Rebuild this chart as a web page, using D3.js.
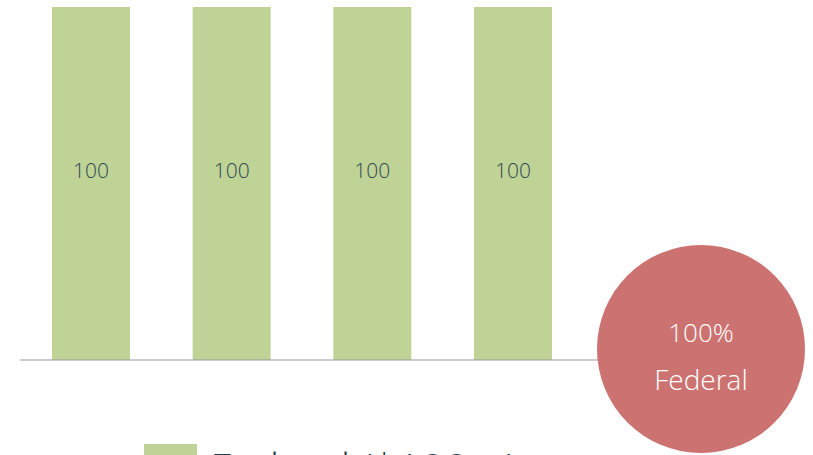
<!DOCTYPE html>
<html>
<head>
<meta charset="utf-8">
<script src="https://d3js.org/d3.v7.min.js"></script>
<style>
  body { margin: 0; background: #fff; overflow: hidden; }
  svg text { font-family: "Open Sans", "Lato", sans-serif; font-weight: 300; }
</style>
</head>
<body>
<svg id="chart" width="813" height="455"></svg>
<script>
// data
var categories = ["1", "2", "3", "4"];
var federal = [100, 100, 100, 100];
var share = "100%";
var shareLabel = "Federal";
var legendLabel = "Federal ($100m)";

var green = "#c0d397", red = "#cc7371";

var svg = d3.select("#chart");

var x = d3.scaleBand()
    .domain(categories)
    .range([20, 584])
    .paddingInner(0.4455)
    .paddingOuter(0.2275);

var y = d3.scaleLinear()
    .domain([0, 100])
    .range([360, 7]);

// bars
svg.append("g")
  .selectAll("rect")
  .data(federal)
  .enter().append("rect")
    .attr("x", function(d, i) { return x(categories[i]); })
    .attr("y", function(d) { return y(d); })
    .attr("width", x.bandwidth())
    .attr("height", function(d) { return y(0) - y(d); })
    .attr("fill", green);

// value labels, a bit above the middle of the bar
svg.append("g")
  .selectAll("text")
  .data(federal)
  .enter().append("text")
    .attr("x", function(d, i) { return x(categories[i]) + x.bandwidth() / 2; })
    .attr("y", function(d) { return y(d) + (y(0) - y(d)) * 0.462; })
    .attr("dy", "0.36em")
    .attr("text-anchor", "middle")
    .attr("font-size", 21)
    .attr("fill", "#2f4a4f")
    .text(function(d) { return d; });

// baseline
svg.append("line")
    .attr("x1", 20).attr("x2", 700)
    .attr("y1", y(0)).attr("y2", y(0))
    .attr("stroke", "#9a9a9e")
    .attr("stroke-width", 1.2);

// share bubble
var bubble = svg.append("g").attr("transform", "translate(701,349)");
bubble.append("circle").attr("r", 104).attr("fill", red);
bubble.append("text")
    .attr("y", -16).attr("dy", "0.36em")
    .attr("text-anchor", "middle")
    .attr("font-size", 26)
    .attr("font-weight", 400)
    .attr("fill", "#fff")
    .text(share);
bubble.append("text")
    .attr("y", 31).attr("dy", "0.36em")
    .attr("text-anchor", "middle")
    .attr("font-size", 28)
    .attr("font-weight", 400)
    .attr("fill", "#fff")
    .text(shareLabel);

// legend
var legend = svg.append("g").attr("transform", "translate(144,444)");
legend.append("rect").attr("width", 53).attr("height", 26).attr("fill", green);
legend.append("text")
    .attr("x", 66).attr("y", 40)
    .attr("font-size", 42)
    .attr("fill", "#1f3d4c")
    .text(legendLabel);
</script>
</body>
</html>
